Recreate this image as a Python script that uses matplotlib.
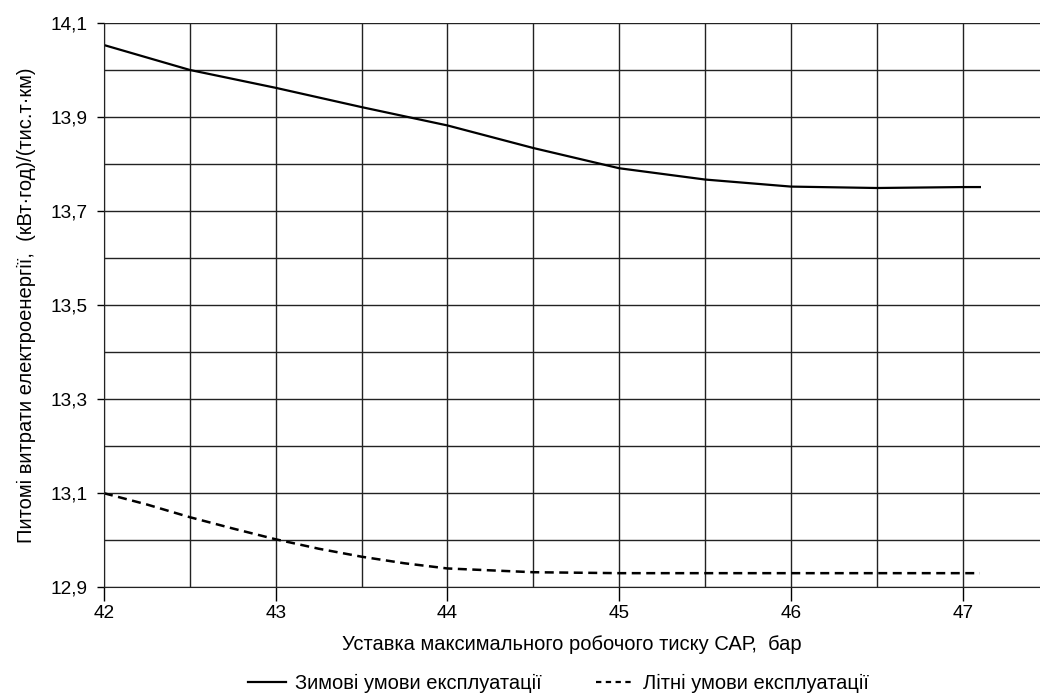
import matplotlib.pyplot as plt
from matplotlib.lines import Line2D
from matplotlib.ticker import MultipleLocator, FixedLocator, FuncFormatter

plt.rcParams['font.family'] = ['Liberation Sans', 'DejaVu Sans']

# values
winter_x = [42.0, 42.5, 43.0, 43.5, 44.0, 44.5, 45.0, 45.5, 46.0, 46.5, 47.0, 47.1]
winter = [14.053, 14.0, 13.962, 13.921, 13.882, 13.834, 13.791, 13.767, 13.752, 13.749, 13.751, 13.751]

summer_x = [42.0, 42.25, 42.5, 42.75, 43.0, 43.25, 43.5, 43.75, 44.0, 44.5, 45.0, 46.0, 47.0, 47.1]
summer = [13.1, 13.076, 13.049, 13.025, 13.002, 12.982, 12.965, 12.951, 12.940, 12.932, 12.930, 12.930, 12.930, 12.930]

y_ticks = [12.9, 13.1, 13.3, 13.5, 13.7, 13.9, 14.1]

fig = plt.figure(figsize=(10.4, 6.95), dpi=100)
ax = fig.add_axes([0.1, 0.155, 0.9, 0.812])

ax.plot(winter_x, winter, color='black', lw=1.6)
ax.plot(summer_x, summer, color='black', lw=1.8, dashes=(3.6, 2.2))

ax.set_xlim(42, 47.45)
ax.set_ylim(12.9, 14.1)

ax.xaxis.set_major_locator(MultipleLocator(1))
ax.xaxis.set_minor_locator(MultipleLocator(0.5))
ax.yaxis.set_major_locator(FixedLocator(y_ticks))
ax.yaxis.set_minor_locator(MultipleLocator(0.1))
ax.yaxis.set_major_formatter(FuncFormatter(lambda v, p: f'{v:.1f}'.replace('.', ',')))

ax.grid(which='both', color='#222222', lw=1.0)
ax.set_axisbelow(True)
ax.tick_params(axis='x', which='major', length=10, width=1, labelsize=13.7, pad=3)
ax.tick_params(axis='x', which='minor', length=0)
ax.tick_params(axis='y', which='major', length=5, width=1, labelsize=13.7, pad=7)
ax.tick_params(axis='y', which='minor', length=0)

for s in ['top', 'right']:
    ax.spines[s].set_visible(False)
for s in ['left', 'bottom']:
    ax.spines[s].set_color('#222222')

ax.set_xlabel('Уставка максимального робочого тиску САР,  бар', fontsize=14.5, labelpad=9)
ax.set_ylabel('Питомі витрати електроенергії,  (кВт·год)/(тис.т·км)', fontsize=14.5, labelpad=10)

handles = [Line2D([], [], color='black', lw=1.6),
           Line2D([], [], color='black', lw=1.6, dashes=(2.4, 2.0))]
labels = ['Зимові умови експлуатації', 'Літні умови експлуатації']
fig.legend(handles, labels, loc='center', bbox_to_anchor=(0.537, 0.017), ncol=2, frameon=False,
           fontsize=14.5, handlelength=1.9, columnspacing=2.7, handletextpad=0.45)

fig.savefig('out.png', dpi=100)
